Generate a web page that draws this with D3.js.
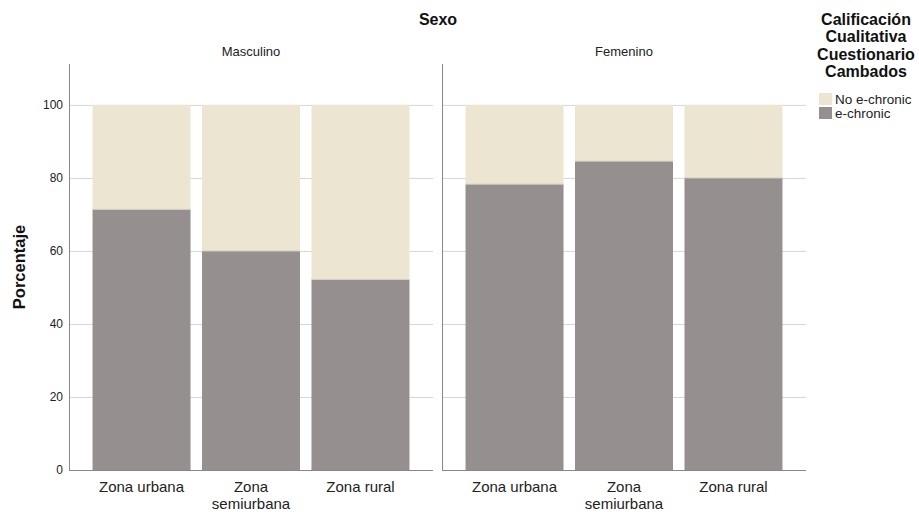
<!DOCTYPE html>
<html>
<head>
<meta charset="utf-8">
<script src="https://cdn.jsdelivr.net/npm/d3@7"></script>
<style>
  body { margin: 0; background: #fff; }
  text { font-family: "Liberation Sans", Arial, sans-serif; }
</style>
</head>
<body>
<div id="chart"></div>
<script>
const sexes = ["Masculino", "Femenino"];
const zonas = ["Zona urbana", "Zona semiurbana", "Zona rural"];
const echronic = {
  "Masculino": [71.4, 60.0, 52.2],
  "Femenino": [78.3, 84.6, 80.0]
};
const yTicks = [0, 20, 40, 60, 80, 100];
const legendItems = ["No e-chronic", "e-chronic"];
const legendColors = ["#ebe5d1", "#95908f"];

var width = 919, height = 512;

var svg = d3.select("#chart").append("svg")
    .attr("width", width)
    .attr("height", height);

const y = d3.scaleLinear().domain([0, 111.2]).range([470, 64]);

const panel = d3.scaleBand().domain(sexes).range([69, 806]).paddingInner(0.0241);

sexes.forEach(s => {
  const x0 = panel(s), x1 = x0 + panel.bandwidth();
  const x = d3.scaleBand().domain(zonas).range([x0, x1])
      .paddingInner(0.105).paddingOuter(0.215);

  const g = svg.append("g");

  // gridlines
  g.append("g").selectAll("line")
    .data(yTicks.filter(d => d > 0))
    .join("line")
      .attr("x1", x0).attr("x2", x1)
      .attr("y1", d => y(d) + 0.5).attr("y2", d => y(d) + 0.5)
      .attr("stroke", "#d6d6d6")
      .attr("stroke-width", 1);

  const rows = zonas.map((z, i) => ({zona: z, v: echronic[s][i]}));

  // No e-chronic part
  g.append("g").selectAll("rect")
    .data(rows)
    .join("rect")
      .attr("x", d => x(d.zona))
      .attr("width", x.bandwidth())
      .attr("y", y(100))
      .attr("height", d => y(d.v) - y(100))
      .attr("fill", legendColors[0]);

  // e-chronic part
  g.append("g").selectAll("rect")
    .data(rows)
    .join("rect")
      .attr("x", d => x(d.zona))
      .attr("width", x.bandwidth())
      .attr("y", d => y(d.v))
      .attr("height", d => y(0) - y(d.v))
      .attr("fill", legendColors[1]);

  // thin light edge between segments
  g.append("g").selectAll("line")
    .data(rows)
    .join("line")
      .attr("x1", d => x(d.zona)).attr("x2", d => x(d.zona) + x.bandwidth())
      .attr("y1", d => y(d.v)).attr("y2", d => y(d.v))
      .attr("stroke", "#d8d3c4").attr("stroke-width", 1);

  // axes lines
  g.append("line")
    .attr("x1", x0 + 0.5).attr("x2", x0 + 0.5)
    .attr("y1", y.range()[1]).attr("y2", y(0))
    .attr("stroke", "#888").attr("stroke-width", 1);
  g.append("line")
    .attr("x1", x0).attr("x2", x1)
    .attr("y1", y(0) + 0.5).attr("y2", y(0) + 0.5)
    .attr("stroke", "#888").attr("stroke-width", 1);

  // x labels
  const xl = g.append("g").selectAll("text")
    .data(zonas)
    .join("text")
      .attr("x", d => x(d) + x.bandwidth() / 2)
      .attr("y", 492)
      .attr("text-anchor", "middle")
      .attr("font-size", 15)
      .attr("fill", "#222");
  xl.each(function(d) {
    const t = d3.select(this);
    const parts = d === "Zona semiurbana" ? ["Zona", "semiurbana"] : [d];
    parts.forEach((p, i) => {
      t.append("tspan").attr("x", x(d) + x.bandwidth() / 2)
        .attr("dy", i === 0 ? 0 : 17).text(p);
    });
  });

  // panel title
  svg.append("text")
    .attr("x", (x0 + x1) / 2)
    .attr("y", 56)
    .attr("text-anchor", "middle")
    .attr("font-size", 13)
    .attr("fill", "#222")
    .text(s);
});

// y tick labels (left panel only)
svg.append("g").selectAll("text")
  .data(yTicks)
  .join("text")
    .attr("x", 63)
    .attr("y", d => y(d) + 4)
    .attr("text-anchor", "end")
    .attr("font-size", 12)
    .attr("fill", "#222")
    .text(d => d);

svg.append("text")
  .attr("transform", "translate(25," + (y(0) + y.range()[1]) / 2 + ") rotate(-90)")
  .attr("text-anchor", "middle")
  .attr("font-size", 16.5)
  .attr("font-weight", "bold")
  .attr("fill", "#111")
  .text("Porcentaje");

svg.append("text")
  .attr("x", 438)
  .attr("y", 25)
  .attr("text-anchor", "middle")
  .attr("font-size", 16)
  .attr("font-weight", "bold")
  .attr("fill", "#111")
  .text("Sexo");

// legend
const legTitle = ["Calificación", "Cualitativa", "Cuestionario", "Cambados"];
svg.append("g").selectAll("text")
  .data(legTitle)
  .join("text")
    .attr("x", 866)
    .attr("y", (d, i) => 25 + i * 17.3)
    .attr("text-anchor", "middle")
    .attr("font-size", 16)
    .attr("font-weight", "bold")
    .attr("fill", "#111")
    .text(d => d);

const leg = svg.append("g").selectAll("g")
  .data(legendItems)
  .join("g")
    .attr("transform", (d, i) => "translate(819," + (93 + i * 14) + ")");
leg.append("rect")
  .attr("width", 13).attr("height", 12)
  .attr("fill", (d, i) => legendColors[i]);
leg.append("text")
  .attr("x", 16).attr("y", 10.5)
  .attr("font-size", 13.5)
  .attr("fill", "#222")
  .text(d => d);
</script>
</body>
</html>
